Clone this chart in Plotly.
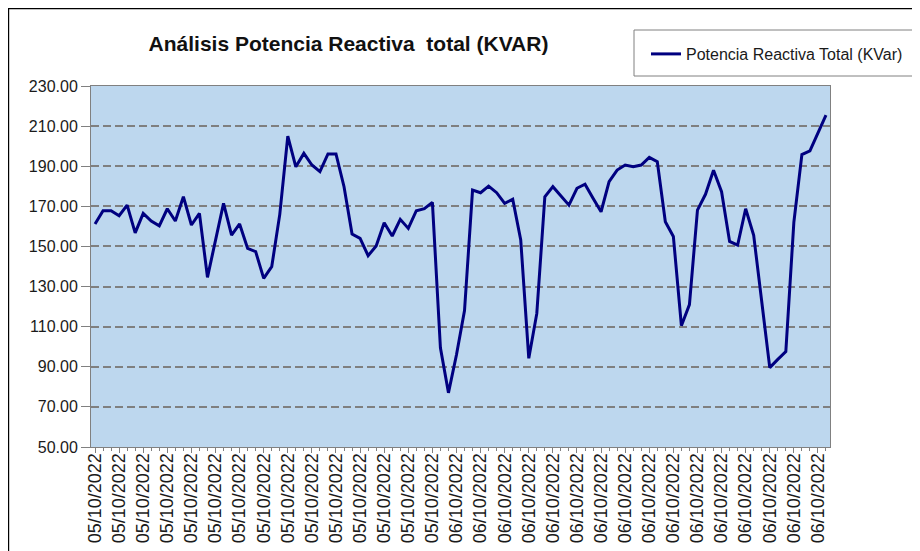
import plotly.graph_objects as go

# ---- data ----
kvar = [161.2, 167.8, 167.8, 165.3, 170.6, 156.8, 166.5, 162.7, 160.3, 168.8,
        162.7, 174.8, 160.7, 166.5, 134.6, 153.0, 171.5, 155.7, 161.2, 149.0,
        147.4, 134.1, 139.9, 166.0, 205.0, 189.7, 196.4, 190.6, 187.3, 196.1,
        196.1, 179.8, 156.2, 154.0, 145.4, 150.2, 161.8, 155.2, 163.5, 159.0,
        167.8, 168.8, 172.0, 99.5, 77.0, 96.0, 118.0, 178.1, 176.8, 180.1,
        176.8, 171.5, 173.5, 153.2, 94.2, 116.6, 174.8, 179.8, 175.3, 170.6,
        179.0, 181.0, 174.0, 167.3, 182.3, 188.1, 190.6, 189.7, 190.6, 194.4,
        192.2, 162.3, 155.0, 110.5, 121.0, 168.1, 176.0, 188.0, 177.3, 152.5,
        150.7, 168.8, 155.5, 121.0, 89.6, 93.7, 97.6, 162.0, 195.8, 197.6,
        206.4, 215.5]
point_dates = ["05/10/2022"] * 45 + ["06/10/2022"] * 47
tick_labels = ["05/10/2022"] * 15 + ["06/10/2022"] * 16
y_ticks = [50, 70, 90, 110, 130, 150, 170, 190, 210, 230]

series_name = "Potencia Reactiva Total (KVar)"
title_text = "Análisis Potencia Reactiva \u00a0total (KVAR)"

x_idx = list(range(len(kvar)))
tick_pos = x_idx[::3][:len(tick_labels)]

FONT = "Arial, Liberation Sans, sans-serif"
W, H = 920, 551
# page is rendered with an 8px body margin -> figure coords = screen coords - 8
L, R, T, B = 83, 98, 78, 112
pw, ph = W - L - R, H - T - B


def px2paper_x(px):
    return (px - L) / pw


def px2paper_y(py):
    return (H - B - py) / ph


fig = go.Figure()
fig.add_trace(go.Scatter(
    x=x_idx, y=kvar, mode="lines", name=series_name,
    line=dict(color="#000080", width=3),
    customdata=point_dates,
    hovertemplate="%{customdata}<br>%{y:.2f}<extra></extra>",
))

fig.update_layout(
    width=W, height=H,
    margin=dict(l=L, r=R, t=T, b=B),
    paper_bgcolor="white",
    plot_bgcolor="#BDD7EE",
    font=dict(family=FONT, color="#1a1a1a"),
    title=dict(text="<b>" + title_text + "</b>", x=340.5 / W, xanchor="center",
               xref="container", y=1 - 36 / H, yanchor="middle", yref="container",
               font=dict(size=21, family=FONT, color="#111111")),
    showlegend=True,
    legend=dict(x=px2paper_x(638), y=px2paper_y(46), xanchor="left", yanchor="middle",
                bgcolor="rgba(0,0,0,0)", borderwidth=0,
                font=dict(size=16, family=FONT, color="#1a1a1a")),
    xaxis=dict(
        range=[-0.5, len(kvar) - 0.5],
        tickmode="array", tickvals=tick_pos, ticktext=tick_labels,
        tickangle=-90, tickfont=dict(size=18, family=FONT, color="#1a1a1a"),
        ticks="outside", ticklen=5, tickcolor="#808080", tickwidth=1,
        ticklabelstandoff=-7,
        minor=dict(tickmode="linear", tick0=0, dtick=1, ticks="outside",
                   ticklen=3, tickcolor="#808080", tickwidth=1, showgrid=False),
        showgrid=False, zeroline=False,
        showline=True, linecolor="#808080", linewidth=1, mirror=True,
        automargin=False, fixedrange=True,
    ),
    yaxis=dict(
        range=[50, 230], tickmode="array", tickvals=y_ticks,
        tickformat=".2f", tickfont=dict(size=16, family=FONT, color="#1a1a1a"),
        ticks="outside", ticklen=9, tickcolor="#808080", tickwidth=1,
        showgrid=True, gridcolor="#7f7f7f", gridwidth=1.6, griddash="8px,4px",
        zeroline=False,
        showline=True, linecolor="#808080", linewidth=1, mirror=True,
        automargin=False, fixedrange=True,
    ),
    shapes=[
        # outer chart frame
        dict(type="rect", xref="paper", yref="paper",
             x0=px2paper_x(0.6), x1=px2paper_x(960), y0=px2paper_y(620), y1=px2paper_y(0.6),
             line=dict(color="#000000", width=1.2), fillcolor="rgba(0,0,0,0)", layer="below"),
        # legend box
        dict(type="rect", xref="paper", yref="paper",
             x0=px2paper_x(626), x1=px2paper_x(910), y0=px2paper_y(68), y1=px2paper_y(22),
             line=dict(color="#808080", width=1), fillcolor="white", layer="below"),
    ],
)

fig.write_html("out.html")
